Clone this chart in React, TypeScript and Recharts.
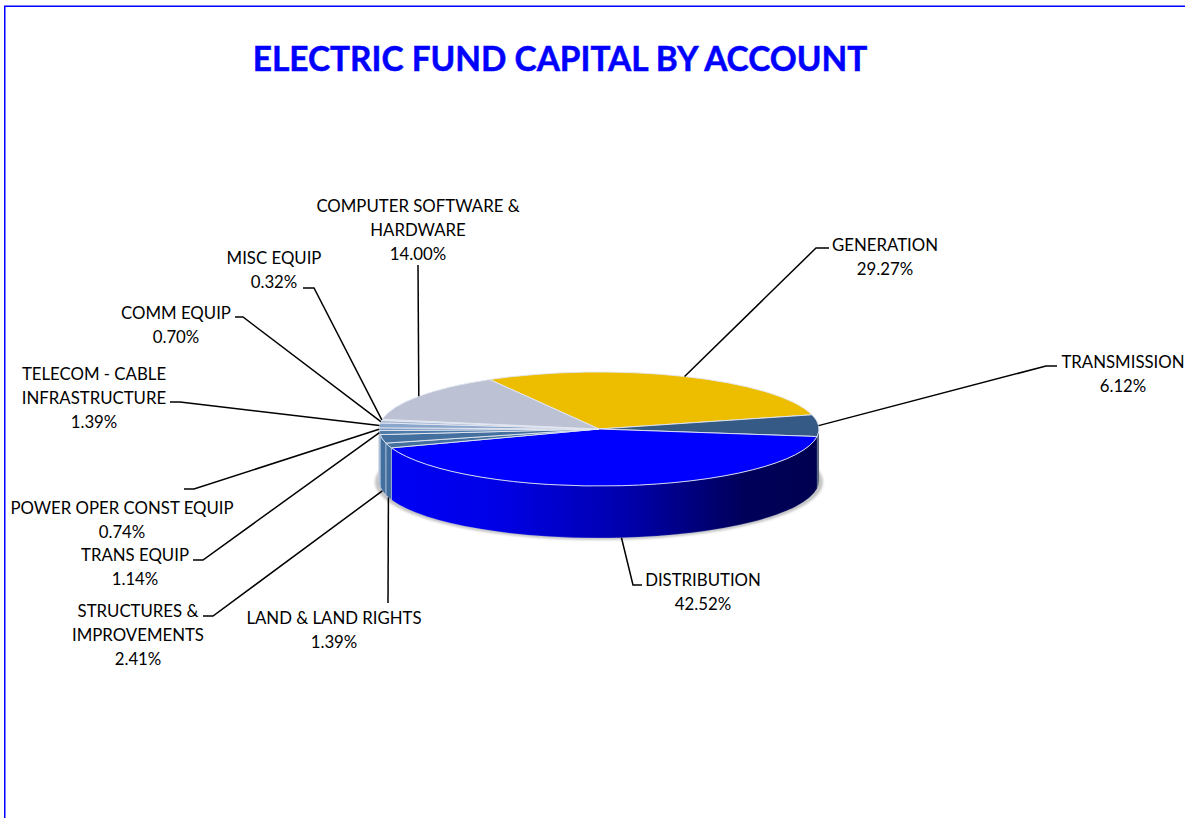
import { Cell, Pie, PieChart } from "recharts";

const ACCOUNTS = [
  "GENERATION",
  "TRANSMISSION",
  "DISTRIBUTION",
  "LAND & LAND RIGHTS",
  "STRUCTURES & IMPROVEMENTS",
  "TRANS EQUIP",
  "POWER OPER CONST EQUIP",
  "TELECOM - CABLE INFRASTRUCTURE",
  "COMM EQUIP",
  "MISC EQUIP",
  "COMPUTER SOFTWARE & HARDWARE",
];
const SHARES = [29.27, 6.12, 42.52, 1.39, 2.41, 1.14, 0.74, 1.39, 0.7, 0.32, 14.0];

const TOP_COLORS = [
  "#edbe00", "#355a85", "#0000ff", "#44709f", "#44709f", "#4f7bab",
  "#7394bf", "#8ba6cb", "#a2b6d4", "#c3cfe2", "#bcc2d4",
];
const WALL_COLORS = [
  "#a88700", "url(#wallTransmission)", "url(#wallDistribution)", "#3f6c9c", "#44709f", "#4f7bab",
  "#7394bf", "#8ba6cb", "#a2b6d4", "#c3cfe2", "#8d92a3",
];
// seam drawn on the wall: only the narrow left slices show a clear one
const WALL_SEAMS = [0.3, 0.3, 0.3, 0.9, 0.9, 0.9, 0.9, 0.9, 0.9, 0.9, 0.3];

// label placement, same order as ACCOUNTS: text lines, text centre, first baseline row, elbow, end of line
const LABEL_LINES = [
  ["GENERATION"],
  ["TRANSMISSION"],
  ["DISTRIBUTION"],
  ["LAND & LAND RIGHTS"],
  ["STRUCTURES &", "IMPROVEMENTS"],
  ["TRANS EQUIP"],
  ["POWER OPER CONST EQUIP"],
  ["TELECOM - CABLE", "INFRASTRUCTURE"],
  ["COMM EQUIP"],
  ["MISC EQUIP"],
  ["COMPUTER SOFTWARE &", "HARDWARE"],
];
const LABEL_BOX = [
  { tx: 885, ty: 244, ex: 816, ey: 248, lx: 829, ly: 248, onWall: false },
  { tx: 1123, ty: 361, ex: 1046, ey: 366, lx: 1057, ly: 366, onWall: false },
  { tx: 703, ty: 579, ex: 633, ey: 585, lx: 642, ly: 585, onWall: true },
  { tx: 334, ty: 617, ex: 388, ey: 603, lx: 388, ly: 603, onWall: true },
  { tx: 138, ty: 610, ex: 213, ey: 616, lx: 203, ly: 616, onWall: true },
  { tx: 135, ty: 554, ex: 203, ey: 560, lx: 193, ly: 560, onWall: false },
  { tx: 122, ty: 507, ex: 194, ey: 489, lx: 184, ly: 489, onWall: false },
  { tx: 94, ty: 373, ex: 180, ey: 402, lx: 170, ly: 402, onWall: false },
  { tx: 176, ty: 312, ex: 243, ey: 317, lx: 235, ly: 317, onWall: false },
  { tx: 274, ty: 257, ex: 314, ey: 288, lx: 303, ly: 288, onWall: false },
  { tx: 418, ty: 205, ex: 418, ey: 265, lx: 418, ly: 265, onWall: false },
];

const CX = 599;
const CY = 429;
const RADIUS = 220;
const SQUASH = 57 / 220;
const DEPTH = 52;
const LINE_H = 24;
const RAD = Math.PI / 180;

const tableData = ACCOUNTS.map((name, i) => ({ name, value: SHARES[i] }));

// flat point on the tilted disc; angle goes clockwise from east
function rim(cx: number, cy: number, r: number, cw: number, drop = 0) {
  return { x: cx + r * Math.cos(cw * RAD), y: cy + SQUASH * r * Math.sin(cw * RAD) + drop };
}

function Slice3D(props: any) {
  const { cx, cy, outerRadius: r, startAngle, endAngle, fill, name } = props;
  const s = -startAngle;
  const e = -endAngle;
  const ry = r * SQUASH;
  const a = rim(cx, cy, r, s);
  const b = rim(cx, cy, r, e);
  const top = `M${cx},${cy}L${a.x},${a.y}A${r},${ry} 0 ${e - s > 180 ? 1 : 0} 1 ${b.x},${b.y}Z`;
  const walls: string[] = [];
  for (const k of [-360, 0, 360]) {
    const lo = Math.max(s, k);
    const hi = Math.min(e, k + 180);
    if (lo < hi) {
      const p = rim(cx, cy, r, lo);
      const q = rim(cx, cy, r, hi);
      const q2 = rim(cx, cy, r, hi, DEPTH);
      const p2 = rim(cx, cy, r, lo, DEPTH);
      walls.push(
        `M${p.x},${p.y}A${r},${ry} 0 0 1 ${q.x},${q.y}L${q2.x},${q2.y}A${r},${ry} 0 0 0 ${p2.x},${p2.y}Z`
      );
    }
  }
  const idx = ACCOUNTS.indexOf(name);
  return (
    <g>
      {walls.map((d, i) => (
        <path key={i} d={d} fill={WALL_COLORS[idx]} stroke="#c6d2e4" strokeOpacity={WALL_SEAMS[idx]} strokeWidth={0.7} />
      ))}
      <path d={top} fill={fill} stroke="#e4e8f2" strokeWidth={0.9} strokeLinejoin="round" />
    </g>
  );
}

function SliceLabel(props: any) {
  const { cx, cy, outerRadius: r, midAngle, index, value } = props;
  const box = LABEL_BOX[index];
  const start = rim(cx, cy, r, -midAngle, box.onWall ? DEPTH : 0);
  const lines = [...LABEL_LINES[index], `${value.toFixed(2)}%`];
  return (
    <g>
      <polyline
        points={`${start.x},${start.y} ${box.ex},${box.ey} ${box.lx},${box.ly}`}
        fill="none"
        stroke="#000"
        strokeWidth={1.5}
      />
      <text
        x={box.tx}
        y={box.ty + 6.5}
        textAnchor="middle"
        fontFamily="Lato, 'Open Sans', sans-serif"
        fontSize={16.8}
        fill="#000"
        stroke="none"
      >
        {lines.map((t, i) => (
          <tspan key={i} x={box.tx} y={box.ty + 6.5 + i * LINE_H}>
            {t}
          </tspan>
        ))}
      </text>
    </g>
  );
}

export default function App() {
  return (
    <div style={{ position: "absolute", left: 0, top: 0, width: 1185, height: 818, background: "#fff", overflow: "hidden" }}>
      <PieChart width={1185} height={818} margin={{ top: 0, right: 0, bottom: 0, left: 0 }}>
        <defs>
          <linearGradient id="wallDistribution" gradientUnits="userSpaceOnUse" x1={391} y1={0} x2={820} y2={0}>
            <stop offset="0" stopColor="#0000f5" />
            <stop offset="0.25" stopColor="#0000e6" />
            <stop offset="0.55" stopColor="#0000ac" />
            <stop offset="0.82" stopColor="#00005a" />
            <stop offset="1" stopColor="#000050" />
          </linearGradient>
          <linearGradient id="wallTransmission" gradientUnits="userSpaceOnUse" x1={815} y1={0} x2={820} y2={0}>
            <stop offset="0" stopColor="#1b2e4a" />
            <stop offset="1" stopColor="#5c6a80" />
          </linearGradient>
          <filter id="shadowBlur" x="-5%" y="-10%" width="110%" height="120%">
            <feGaussianBlur stdDeviation="1.2" />
          </filter>
        </defs>
        <rect x={4.75} y={6.25} width={1400} height={1000} fill="none" stroke="#0000ff" strokeWidth={1.5} />
        <text
          x={560}
          y={59}
          dy={12}
          textAnchor="middle"
          fontFamily="Lato, 'Open Sans', sans-serif"
          fontWeight={700}
          fontSize={33.4}
          stroke="#0000ff"
          strokeWidth={0.5}
          fill="#0000ff"
        >
          ELECTRIC FUND CAPITAL BY ACCOUNT
        </text>
        <ellipse cx={CX} cy={482} rx={224} ry={58} fill="#c4c4c4" filter="url(#shadowBlur)" />
        <Pie
          data={tableData}
          dataKey="value"
          nameKey="name"
          cx={CX}
          cy={CY}
          innerRadius={0}
          outerRadius={RADIUS}
          startAngle={119.8}
          endAngle={-240.2}
          paddingAngle={0}
          isAnimationActive={false}
          shape={Slice3D}
          label={SliceLabel}
          labelLine={false}
        >
          {tableData.map((_, i) => (
            <Cell key={i} fill={TOP_COLORS[i]} />
          ))}
        </Pie>
      </PieChart>
    </div>
  );
}
